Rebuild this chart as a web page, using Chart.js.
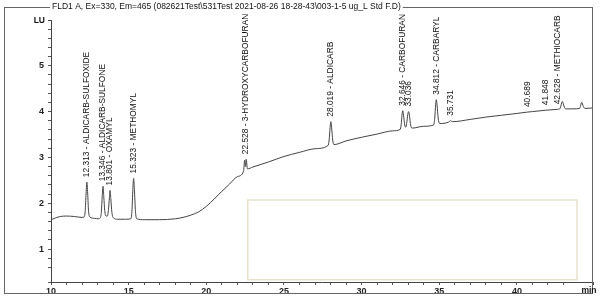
<!DOCTYPE html>
<html>
<head>
<meta charset="utf-8">
<script src="https://cdn.jsdelivr.net/npm/chart.js@4.4.1/dist/chart.umd.min.js"></script>
<style>
  html, body { margin: 0; padding: 0; background: #fff; overflow: hidden; }
  canvas { display: block; }
</style>
</head>
<body>
<canvas id="chrom" width="600" height="301"></canvas>
<script>
// retention time (min) and signal (LU)
const times = [10.0, 10.3, 10.6, 11.0, 11.5, 12.0,
  12.13, 12.2, 12.26, 12.31, 12.36, 12.42, 12.5, 12.8, 13.05,
  13.17, 13.24, 13.3, 13.35, 13.4, 13.46, 13.55,
  13.63, 13.7, 13.76, 13.8, 13.85, 13.92, 14.02, 14.3, 14.8,
  15.14, 15.21, 15.27, 15.32, 15.37, 15.44, 15.52,
  16.0, 17.0, 18.0, 18.5, 19.0, 19.5, 20.0, 20.5, 21.0, 21.5, 22.0,
  22.4, 22.47, 22.52, 22.57, 22.65, 23.0, 24.0, 25.0, 26.0, 27.0,
  27.84, 27.91, 27.97, 28.02, 28.07, 28.14, 28.22, 29.0, 30.0, 31.0, 32.0,
  32.48, 32.55, 32.6, 32.65, 32.7, 32.78, 32.84, 32.9, 32.97, 33.03, 33.08, 33.16, 33.26, 34.0,
  34.64, 34.71, 34.77, 34.81, 34.86, 34.93, 35.02,
  35.6, 35.73, 35.85, 37.0, 38.0, 39.0, 40.0, 40.69, 41.0, 41.85, 42.6,
  42.76, 42.83, 42.89, 42.93, 42.98, 43.05, 43.15, 43.6,
  44.04, 44.1, 44.15, 44.18, 44.22, 44.28, 44.38, 44.9];
const signal = [1.64, 1.68, 1.71, 1.72, 1.71, 1.69,
  1.70, 1.82, 2.22, 2.46, 2.22, 1.82, 1.70, 1.67, 1.66,
  1.68, 1.80, 2.16, 2.37, 2.14, 1.84, 1.72,
  1.72, 1.86, 2.12, 2.28, 2.10, 1.80, 1.68, 1.65, 1.65,
  1.66, 1.82, 2.30, 2.54, 2.30, 1.82, 1.66,
  1.64, 1.64, 1.66, 1.69, 1.74, 1.81, 1.93, 2.09, 2.26, 2.42, 2.58,
  2.70, 2.94, 2.80, 2.96, 2.75, 2.79, 2.90, 3.02, 3.11, 3.19,
  3.26, 3.38, 3.65, 3.78, 3.64, 3.38, 3.28, 3.36, 3.44, 3.51, 3.58,
  3.61, 3.72, 3.92, 4.02, 3.92, 3.70, 3.66, 3.74, 3.93, 4.00, 3.92, 3.70, 3.64, 3.68,
  3.71, 3.86, 4.16, 4.26, 4.14, 3.86, 3.74,
  3.77, 3.80, 3.78, 3.83, 3.88, 3.92, 3.96, 3.99, 4.00, 4.03, 4.05,
  4.06, 4.12, 4.20, 4.22, 4.18, 4.10, 4.06, 4.06,
  4.07, 4.13, 4.19, 4.20, 4.17, 4.11, 4.07, 4.08];

// integrated peaks and their names
const peakTimes = [12.313, 13.346, 13.801, 15.323, 22.528, 28.019, 32.646, 33.036, 34.812, 35.731, 40.689, 41.848, 42.628];
const peakNames = ['ALDICARB-SULFOXIDE', 'ALDICARB-SULFONE', 'OXAMYL', 'METHOMYL', '3-HYDROXYCARBOFURAN',
  'ALDICARB', 'CARBOFURAN', '', 'CARBARYL', '', '', '', 'METHIOCARB'];

const xTicks = { min: 10, max: 44.9, step: 1, labelEvery: 5 };
const yTicks = { min: 0.28, max: 6, step: 0.2 };

const titleText = 'FLD1 A, Ex=330, Em=465 (082621Test\\531Test 2021-08-26 18-28-43\\003-1-5 ug_L Std F.D)';
// pale box left on the scan, in data units
const noteBox = { x0: 22.67, x1: 43.87, y0: 0.33, y1: 2.07 };

const FONT = "'Liberation Sans', Arial, sans-serif";

const decor = {
  id: 'decor',
  beforeDraw(chart) {
    const ctx = chart.ctx;
    ctx.save();
    ctx.fillStyle = '#fff';
    ctx.fillRect(0, 0, chart.width, chart.height);
    ctx.restore();
  },
  beforeDatasetsDraw(chart) {
    const { ctx, scales: { x, y } } = chart;
    ctx.save();
    ctx.strokeStyle = '#e6e2cc';
    ctx.lineWidth = 1.5;
    const l = x.getPixelForValue(noteBox.x0), r = x.getPixelForValue(noteBox.x1);
    const t = y.getPixelForValue(noteBox.y1), b = y.getPixelForValue(noteBox.y0);
    ctx.strokeRect(l, t, r - l, b - t);
    ctx.restore();
  },
  afterDraw(chart) {
    const { ctx, chartArea: area, scales: { x, y } } = chart;
    ctx.save();

    // outer frame
    ctx.strokeStyle = '#666';
    ctx.lineWidth = 1;
    ctx.strokeRect(4.5, 7.5, chart.width - 12, chart.height - 15);

    // title over the frame line
    ctx.font = '8.5px ' + FONT;
    ctx.textBaseline = 'middle';
    ctx.textAlign = 'left';
    const tw = ctx.measureText(titleText).width;
    ctx.fillStyle = '#fff';
    ctx.fillRect(area.left - 1, 1, tw + 4, 12);
    ctx.fillStyle = '#111';
    ctx.fillText(titleText, area.left + 1, 7);

    // LU + hook at top of y axis
    ctx.strokeStyle = '#444';
    ctx.beginPath();
    ctx.moveTo(area.left - 3, area.top + 0.5);
    ctx.lineTo(area.left, area.top + 0.5);
    ctx.stroke();
    ctx.font = 'bold 8.5px ' + FONT;
    ctx.textAlign = 'right';
    ctx.fillText('LU', area.left - 6, area.top + 1);

    // min unit
    ctx.textAlign = 'center';
    ctx.fillText('min', area.right - 4, area.bottom + 9);

    // peak labels, rotated, starting just above the apex
    ctx.font = '8.4px ' + FONT;
    ctx.textAlign = 'left';
    ctx.textBaseline = 'middle';
    peakTimes.forEach((t, i) => {
      let top = -Infinity;
      times.forEach((tt, j) => { if (Math.abs(tt - t) <= 0.12) top = Math.max(top, signal[j]); });
      const px = x.getPixelForValue(t);
      const py = y.getPixelForValue(top) - 5;
      const txt = t.toFixed(3) + (peakNames[i] ? ' - ' + peakNames[i] : '');
      ctx.save();
      ctx.translate(px, py);
      ctx.rotate(-Math.PI / 2);
      ctx.fillText(txt, 0, 0);
      ctx.restore();
    });
    ctx.restore();
  }
};

new Chart(document.getElementById('chrom'), {
  type: 'line',
  data: {
    datasets: [{
      data: times.map((t, i) => ({ x: t, y: signal[i] })),
      borderColor: '#444',
      borderWidth: 1,
      pointRadius: 0,
      cubicInterpolationMode: 'monotone',
      fill: false
    }]
  },
  options: {
    responsive: false,
    animation: false,
    events: [],
    layout: { padding: { top: 20, right: 7, left: 0, bottom: 0 } },
    plugins: { legend: { display: false }, title: { display: false }, tooltip: { enabled: false } },
    scales: {
      x: {
        type: 'linear',
        min: xTicks.min,
        max: xTicks.max,
        afterFit(s) { s.height = 19; },
        border: { display: true, color: '#444', width: 1 },
        grid: { drawOnChartArea: false, drawTicks: true, tickLength: 3, color: '#555' },
        ticks: {
          stepSize: xTicks.step,
          autoSkip: false,
          maxRotation: 0,
          padding: 1,
          color: '#222',
          font: { family: FONT, size: 9, weight: 'bold' },
          callback: v => (v % xTicks.labelEvery === 0 ? v : '')
        }
      },
      y: {
        type: 'linear',
        min: yTicks.min,
        max: yTicks.max,
        afterFit(s) { s.width = 51; },
        border: { display: true, color: '#444', width: 1 },
        grid: { drawOnChartArea: false, drawTicks: true, tickLength: 3, color: '#555' },
        ticks: {
          stepSize: yTicks.step,
          autoSkip: false,
          padding: 4,
          color: '#222',
          font: { family: FONT, size: 9, weight: 'bold' },
          callback: v => {
            const r = Math.round(v);
            return (Math.abs(v - r) < 1e-6 && r >= 1 && r < yTicks.max) ? r : '';
          }
        }
      }
    }
  },
  plugins: [decor]
});
</script>
</body>
</html>
